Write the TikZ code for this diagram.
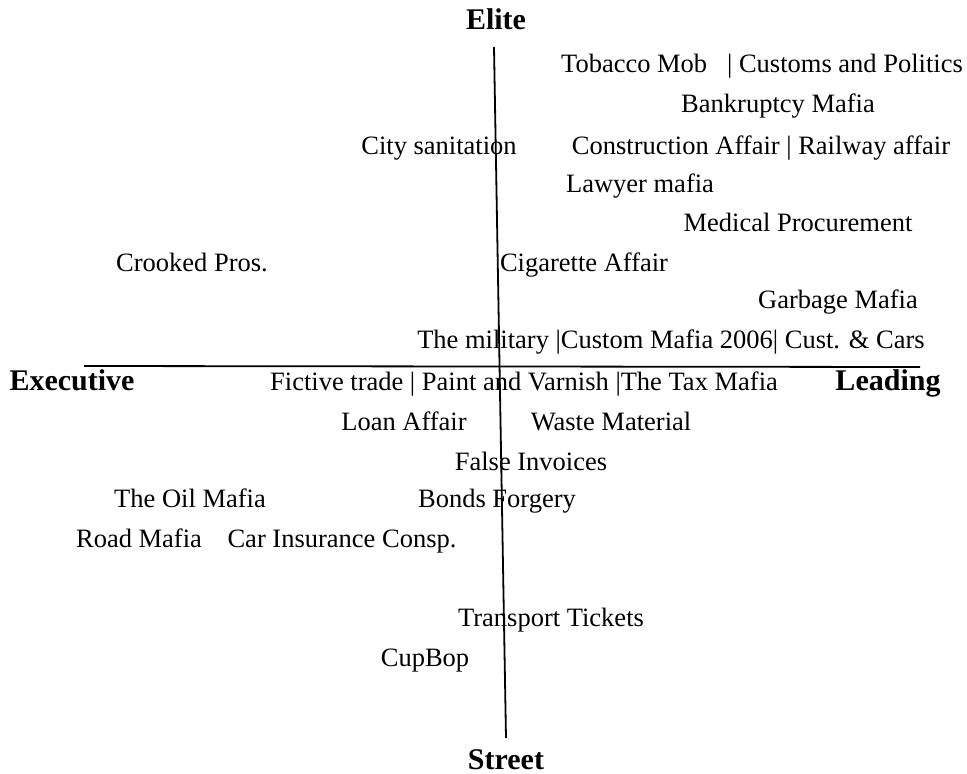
\documentclass[tikz,border=0pt]{standalone}
\usepackage{fontspec}
\setmainfont{Liberation Serif}
\begin{document}
\begin{tikzpicture}[x=1pt,y=-1pt,
  lbl/.style={font=\fontsize{26.5}{30}\selectfont, inner sep=0pt, anchor=base},
  axlbl/.style={font=\fontsize{30}{33}\selectfont\bfseries, inner sep=0pt, anchor=base},
  axis/.style={line width=1.8pt, black}]
\useasboundingbox (0,0) rectangle (967,774);
\coordinate (vtop) at (494,47);
\coordinate (vbot) at (506,738);
\coordinate (hleft) at (84,366);
\coordinate (hright) at (920,367);
\draw[axis] (vtop) -- (vbot);
\draw[axis] (hleft) -- (hright);

\node[axlbl] (elite) at (496,29) {Elite};
\node[axlbl] (exec) at (72,390) {Executive};
\node[axlbl] (lead) at (888,390) {Leading};
\node[axlbl] (street) at (506,769) {Street};

\node[lbl] (t1) at (762,72) {Tobacco Mob\ \ \ | Customs and Politics};
\node[lbl] (t2) at (778,112) {Bankruptcy Mafia};
\node[lbl] (t3) at (439,154) {City sanitation};
\node[lbl] (t4) at (761,154) {Construction Affair | Railway affair};
\node[lbl] (t5) at (640,192) {Lawyer mafia};
\node[lbl] (t6) at (798,231) {Medical Procurement};
\node[lbl] (t7) at (192,271) {Crooked Pros.};
\node[lbl] (t8) at (584,271) {Cigarette Affair};
\node[lbl] (t9) at (838,308) {Garbage Mafia};
\node[lbl] (t10) at (671,348) {The military |Custom Mafia 2006| Cust. \& Cars};
\node[lbl] (t11) at (524,390) {Fictive trade | Paint and Varnish |The Tax Mafia};
\node[lbl] (t12) at (404,430) {Loan Affair};
\node[lbl] (t13) at (611,430) {Waste Material};
\node[lbl] (t14) at (531,470) {False Invoices};
\node[lbl] (t15) at (190,507) {The Oil Mafia};
\node[lbl] (t16) at (497,507) {Bonds Forgery};
\node[lbl] (t17) at (139,547) {Road Mafia};
\node[lbl] (t18) at (342,547) {Car Insurance Consp.};
\node[lbl] (t19) at (551,626) {Transport Tickets};
\node[lbl] (t20) at (425,666) {CupBop};
\end{tikzpicture}
\end{document}
